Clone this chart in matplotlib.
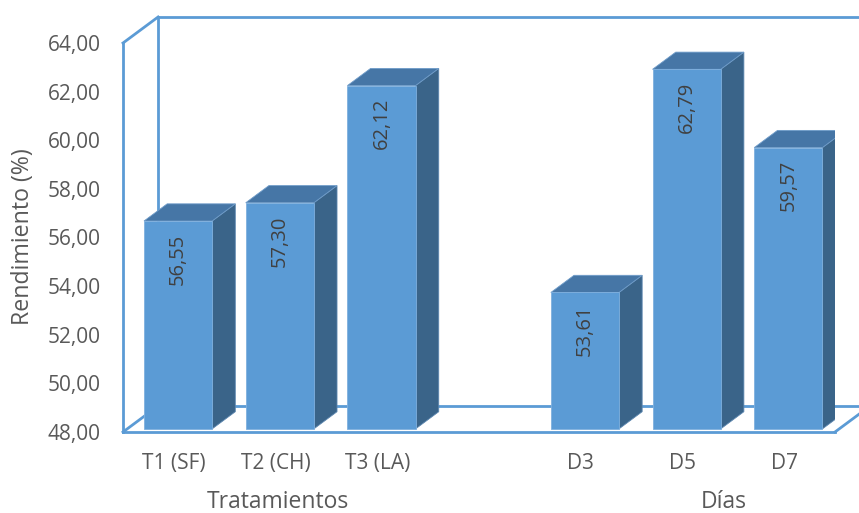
import matplotlib
matplotlib.use("Agg")
import matplotlib.pyplot as plt
from matplotlib.patches import Polygon, Rectangle

# datos
categorias = ["T1 (SF)", "T2 (CH)", "T3 (LA)", "D3", "D5", "D7"]
posiciones = [0, 1, 2, 4, 5, 6]
rendimiento = [56.55, 57.30, 62.12, 53.61, 62.79, 59.57]
grupos = ["Tratamientos", "Días"]
grupo_pos = [1.02, 5.41]
y_min, y_max = 48, 64

plt.rcParams['font.family'] = ['Open Sans', 'DejaVu Sans']
texto = '#595959'
c_front = '#5B9BD5'
c_top = '#4676A6'
c_side = '#3A6489'
c_line = '#5B9BD5'

fig = plt.figure(figsize=(8.59, 5.13), dpi=100)
ax = fig.add_axes([123/859, 81/513, 712/859, 389/513])
ax.set_xlim(-0.5, 6.5)
ax.set_ylim(y_min, y_max)
for s in ax.spines.values():
    s.set_visible(False)

# profundidad del "3D" (en unidades de datos)
DX, DY = 0.345, 1.07
x0, x1 = -0.5, 6.5
lw = 2
kw = dict(color=c_line, lw=lw, clip_on=False, zorder=1)
ax.plot([x0, x0], [y_min, y_max], **kw)
ax.plot([x0, x0 + DX], [y_max, y_max + DY], **kw)
ax.plot([x0 + DX, x0 + DX], [y_min + DY, y_max + DY], **kw)
ax.plot([x0 + DX, x1 + DX], [y_max + DY, y_max + DY], **kw)
ax.plot([x0, x1], [y_min, y_min], **kw)
ax.plot([x0 + DX, x1 + DX], [y_min + DY, y_min + DY], **kw)
ax.plot([x0, x0 + DX], [y_min, y_min + DY], **kw)
ax.plot([x1, x1 + DX], [y_min, y_min + DY], **kw)

# barras
w = 0.67
f0 = 0.12   # separacion desde la pared frontal
bd = 0.66   # profundidad de la barra
for p, v in zip(posiciones, rendimiento):
    xl = p - w/2 + f0*DX
    xr = xl + w
    yb = y_min + f0*DY
    yt = v + f0*DY
    ex, ey = bd*DX, bd*DY
    side = Polygon([(xr, yb), (xr, yt), (xr + ex, yt + ey), (xr + ex, yb + ey)],
                   closed=True, facecolor=c_side, edgecolor='#5d87b0', lw=0.6, zorder=3)
    top = Polygon([(xl, yt), (xr, yt), (xr + ex, yt + ey), (xl + ex, yt + ey)],
                  closed=True, facecolor=c_top, edgecolor='#6f9cc9', lw=0.6, zorder=3)
    front = Rectangle((xl, yb), w, yt - yb, facecolor=c_front,
                      edgecolor='#7fb0de', lw=0.6, zorder=4)
    ax.add_patch(side)
    ax.add_patch(top)
    ax.add_patch(front)
    ax.annotate(f"{v:.2f}".replace('.', ','), xy=(xl + w/2, yt), xytext=(0, -9),
                textcoords='offset points', rotation=90, ha='center', va='top',
                fontsize=14.5, color='#404040', zorder=5)

ax.set_yticks(range(y_min, y_max + 1, 2))
ax.set_yticklabels([f"{t:.2f}".replace('.', ',') for t in range(y_min, y_max + 1, 2)])
ax.set_xticks(posiciones)
ax.set_xticklabels(categorias)
ax.tick_params(axis='y', length=0, pad=16, labelsize=15, labelcolor=texto)
ax.tick_params(axis='x', length=0, pad=15, labelsize=15, labelcolor=texto)

for g, gp in zip(grupos, grupo_pos):
    ax.text(gp, -0.18, g, transform=ax.get_xaxis_transform(), ha='center', va='center',
            fontsize=16.5, color=texto)

fig.text(23/859, 1 - 237/513, "Rendimiento (%)", rotation=90, ha='center', va='center',
         fontsize=16.7, color=texto)

fig.savefig("out.png", dpi=100)
